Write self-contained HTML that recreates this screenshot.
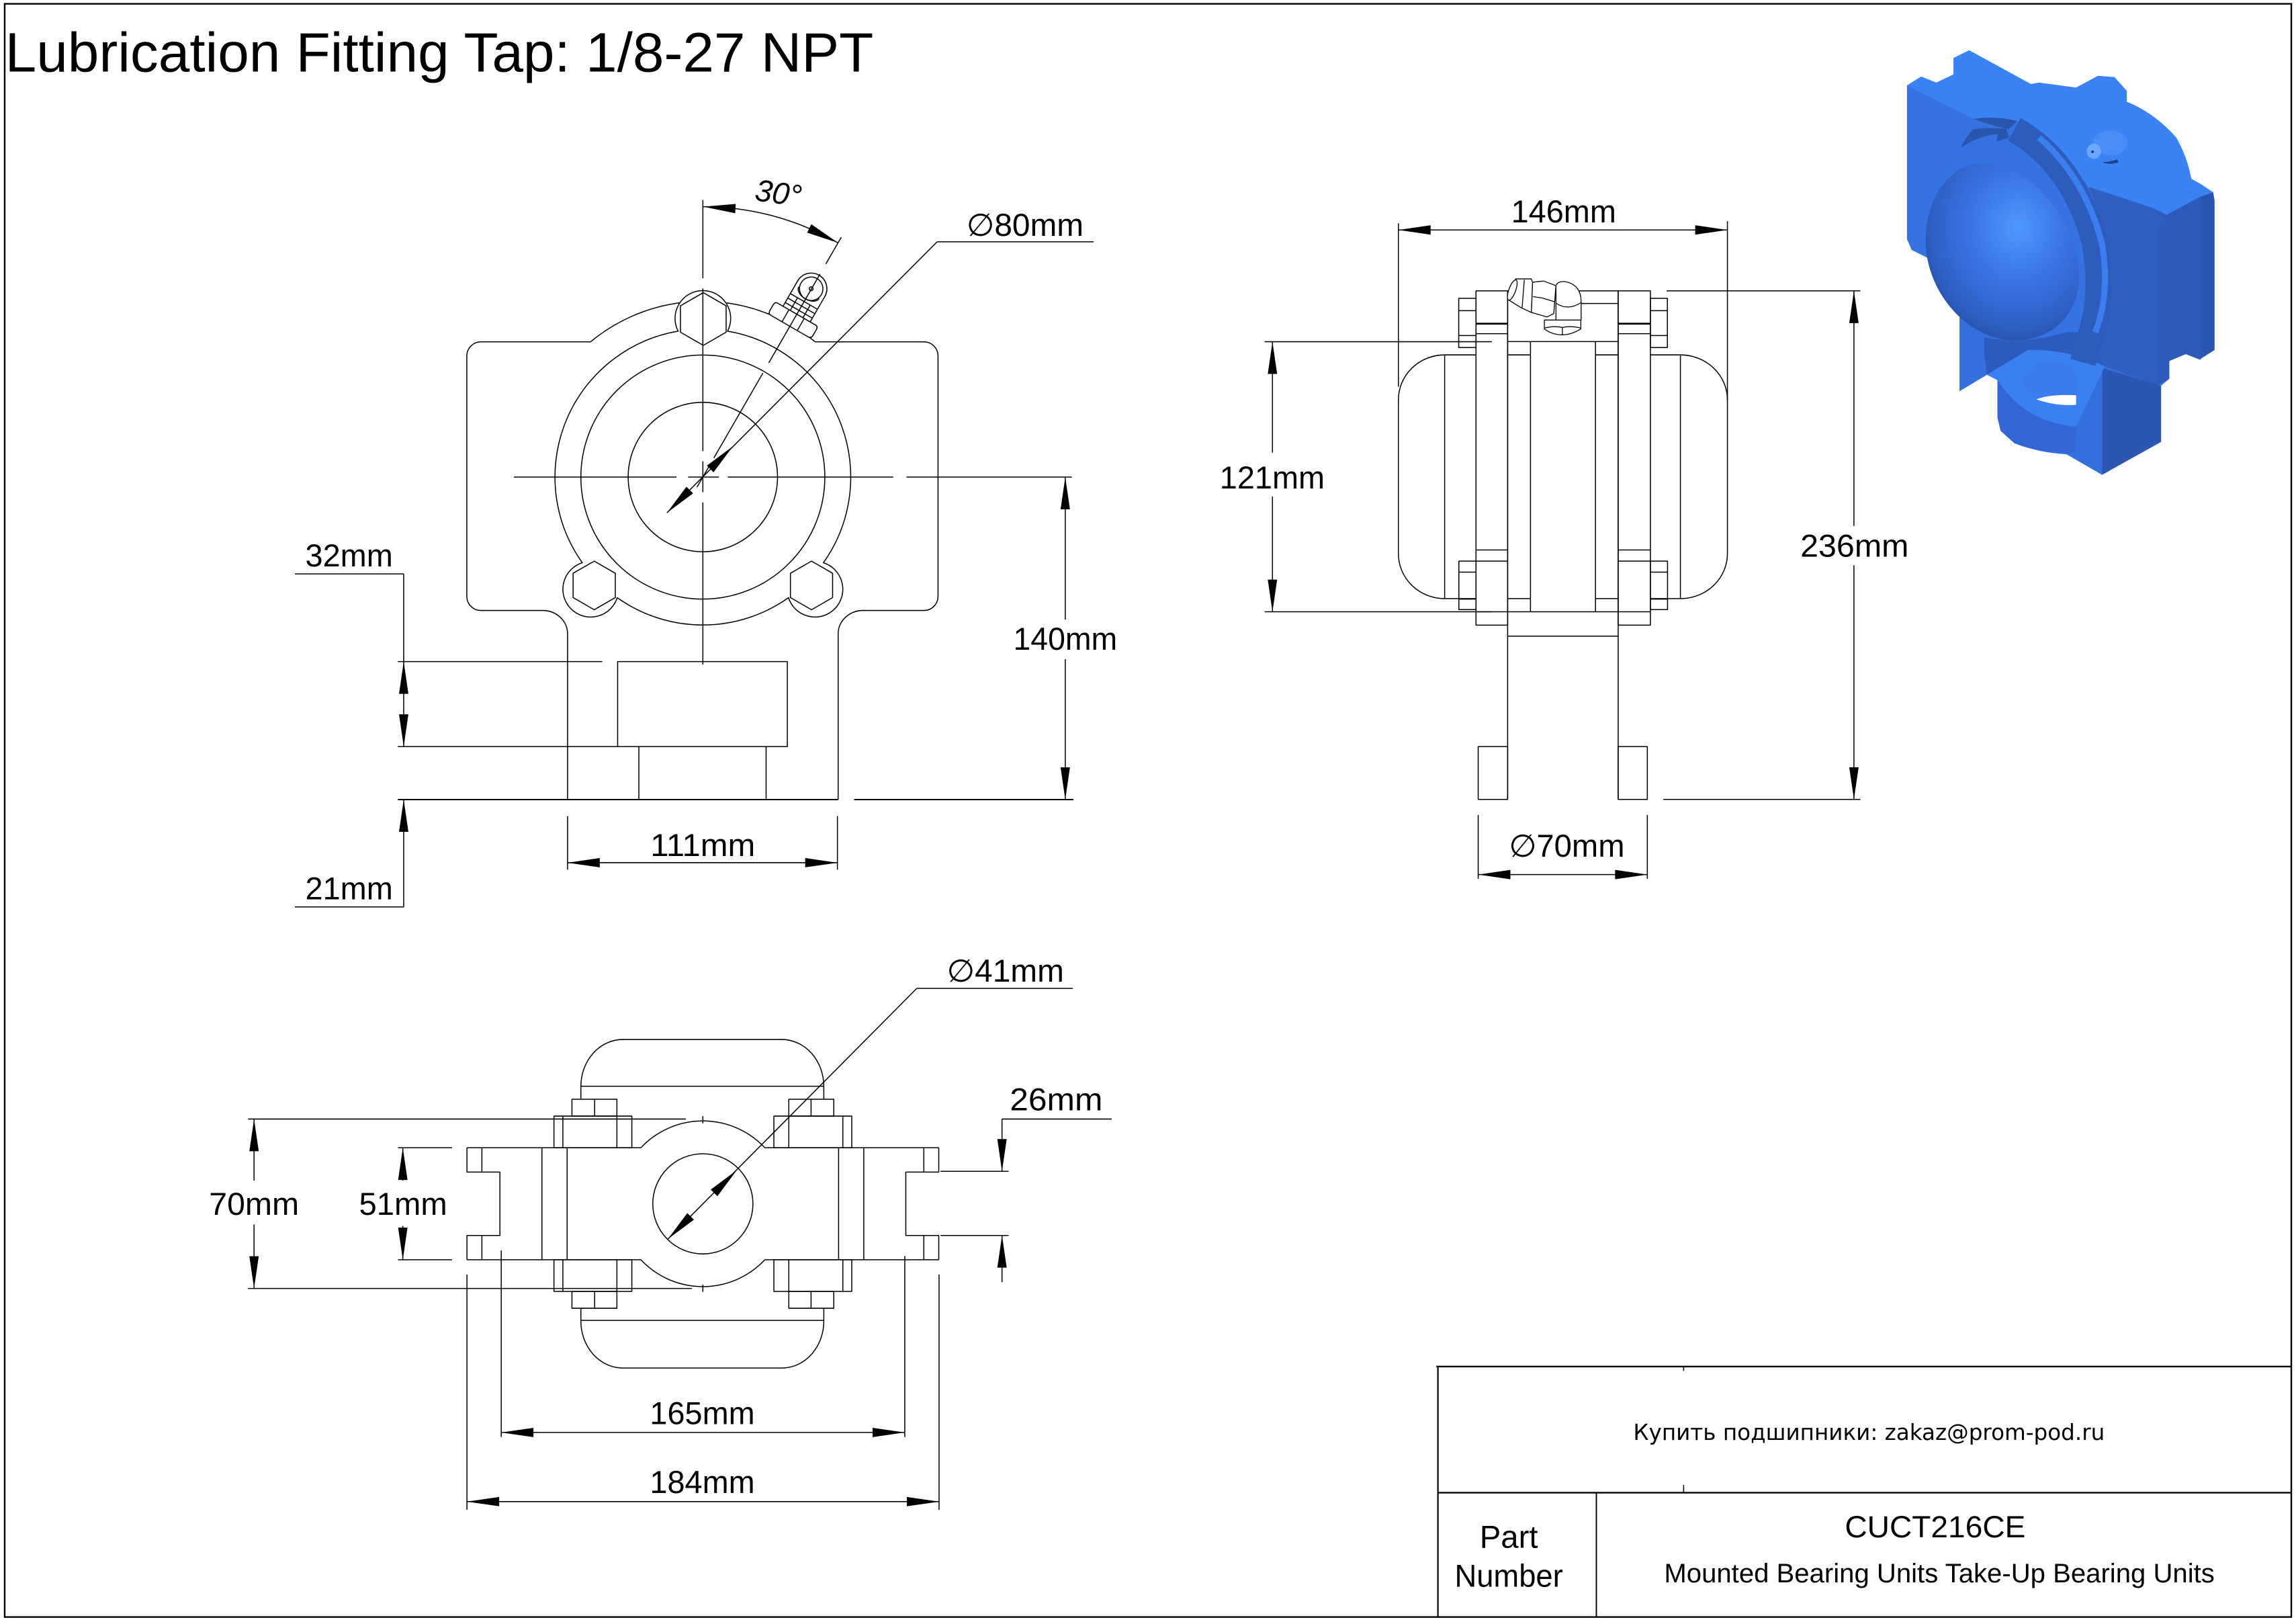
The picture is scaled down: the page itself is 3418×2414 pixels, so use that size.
<!DOCTYPE html>
<html><head><meta charset="utf-8"><style>
html,body{margin:0;padding:0;background:#fff;}
svg{display:block;}
text{font-family:"Liberation Sans","DejaVu Sans",sans-serif;fill:#000;stroke:none;}
</style></head><body>
<svg xmlns="http://www.w3.org/2000/svg" xmlns:xlink="http://www.w3.org/1999/xlink" width="3418" height="2414" viewBox="0 0 1568 1107.4" preserveAspectRatio="none">
<defs>
<path id="ah" d="M0 0 L-22 -3.2 L-22 3.2 Z" fill="#000" stroke="none"/>
<radialGradient id="capg" cx="0.6" cy="0.36" r="0.8">
<stop offset="0" stop-color="#4f98fc"/>
<stop offset="0.35" stop-color="#3a78e8"/>
<stop offset="0.7" stop-color="#2f60c6"/>
<stop offset="0.9" stop-color="#244a9c"/>
<stop offset="1" stop-color="#1a3272"/>
</radialGradient>
</defs>
<rect x="0" y="0" width="1568" height="1107.4" fill="#fff"/>

<!-- border -->
<rect x="3.2" y="2.6" width="1561.6" height="1101.4" fill="none" stroke="#000" stroke-width="1.1"/>
<text x="3.5" y="48.9" font-size="38" textLength="593" lengthAdjust="spacingAndGlyphs">Lubrication Fitting Tap: 1/8-27 NPT</text>

<!-- ================= FRONT VIEW ================= -->
<g fill="none" stroke="#000" stroke-width="0.7" stroke-linejoin="round">
<path d="M318.8 243 A9.6 9.6 0 0 1 328.4 233.4 H403.3 A120 120 0 0 1 464.3 206.7"/>
<path d="M495.7 206.7 A120 120 0 0 1 556.7 233.4 H631 A9.6 9.6 0 0 1 640.6 243 V407.2 A9.6 9.6 0 0 1 631 416.8 H589.5 A17 16 0 0 0 572.4 432.5 V545.9"/>
<path d="M318.8 243 V407.2 A9.6 9.6 0 0 0 328.4 416.8 H370.5 A17 16 0 0 1 387.6 432.5 V545.9"/>
<path d="M496.88 226.12 A101 101 0 0 1 562.35 384.18 A19 19 0 1 1 538.48 408.05 A101 101 0 0 1 421.52 408.05 A19 19 0 1 1 397.65 384.18 A101 101 0 0 1 463.12 226.12 A19 19 0 1 1 496.88 226.12 Z"/>
<circle cx="480" cy="325.7" r="83.3"/>
<circle cx="480" cy="325.7" r="51"/>
<polygon points="480.3,199.8 495.9,208.8 495.9,226.8 480.3,235.8 464.7,226.8 464.7,208.8"/>
<polygon points="405.8,383.1 420.2,391.4 420.2,408 405.8,416.3 391.4,408 391.4,391.4"/>
<polygon points="554.2,383.1 568.6,391.4 568.6,408 554.2,416.3 539.8,408 539.8,391.4"/>
<path d="M271.7 451.7 H411.3"/>
<rect x="421.8" y="451.7" width="115.9" height="58"/>
<path d="M271.7 509.7 H421.8"/>
<path d="M436.3 509.7 V545.9 M523.2 509.7 V545.9"/>
<path d="M271.7 545.9 H572.4 M583.3 545.9 H733" stroke-width="0.9"/>
<path d="M351 325.7 H462 M470 325.7 H491 M497 325.7 H610 M619 325.7 H732"/>
<path d="M480 136.6 V190 M480 197 V308 M480 315 V336 M480 343 V453.7"/>
</g>
<!-- fitting front -->
<g transform="translate(553.5 198) rotate(30)" fill="#fff" stroke="#000" stroke-width="0.7" stroke-linejoin="round">
<path d="M-10.7 -1 A10.7 10.7 0 0 1 10.7 -1 L10.7 19 L-10.7 19 Z"/>
<path d="M-10.7 9 L10.7 9 M-10.7 12.5 L10.7 12.5 M-10.7 16 L10.7 16 M-5 9 V19 M5 9 V19" fill="none"/>
<path d="M-15 19 H15 Q17 19 17 21.5 V26 Q17 28.5 14.5 28.5 H-14.5 Q-17 28.5 -17 26 V21.5 Q-17 19 -15 19 Z"/>
<path d="M-6 19 V28.5 M6 19 V28.5" fill="none"/>
<circle cx="0" cy="-1" r="8"/>
<path d="M-8 2 A8 5 0 0 0 8 2" fill="none"/>
<circle cx="0" cy="-1" r="1.3"/>
</g>
<g fill="none" stroke="#000" stroke-width="0.7">
<path d="M476 332.6 L484 318.8 M487.5 312.7 L521 254.7 M525 247.8 L560 187.1 M564 180.2 L574.5 162"/>
<path d="M480 141.1 A184.6 184.6 0 0 1 572.3 165.8"/>
<path d="M640 165.1 L455.5 350.1 M640 165.1 H746.8"/>
<path d="M727.5 325.7 V423 M727.5 450 V545.9"/>
<path d="M387.6 557.2 V593.7 M571.9 557.2 V593.7 M387.6 589 H571.9"/>
<path d="M275.7 391.8 V509.7 M201.4 391.8 H275.7"/>
<path d="M275.7 545.9 V619.2 M201.4 619.2 H275.7"/>
</g>
<use xlink:href="#ah" transform="translate(480.3 141.1) rotate(183.4)"/>
<use xlink:href="#ah" transform="translate(572.3 165.8) rotate(26.6)"/>
<use xlink:href="#ah" transform="translate(500.6 304.6) rotate(-45)"/>
<use xlink:href="#ah" transform="translate(455.5 350.1) rotate(135)"/>
<use xlink:href="#ah" transform="translate(727.5 325.7) rotate(-90)"/>
<use xlink:href="#ah" transform="translate(727.5 545.9) rotate(90)"/>
<use xlink:href="#ah" transform="translate(275.7 451.7) rotate(-90)"/>
<use xlink:href="#ah" transform="translate(275.7 509.7) rotate(90)"/>
<use xlink:href="#ah" transform="translate(275.7 545.9) rotate(-90)"/>
<use xlink:href="#ah" transform="translate(387.6 589) rotate(180)"/>
<use xlink:href="#ah" transform="translate(571.9 589) rotate(0)"/>
<text x="516" y="139" font-size="21" font-style="italic" transform="rotate(8 532 130)">30°</text>
<text x="660" y="161.1" font-size="21.5" textLength="80" lengthAdjust="spacingAndGlyphs">∅80mm</text>
<text x="208.5" y="386.7" font-size="21.5" textLength="59.8" lengthAdjust="spacingAndGlyphs">32mm</text>
<text x="208.5" y="614" font-size="21.5" textLength="59.8" lengthAdjust="spacingAndGlyphs">21mm</text>
<text x="692" y="443.5" font-size="21.5" textLength="71" lengthAdjust="spacingAndGlyphs">140mm</text>
<text x="444.2" y="584.4" font-size="21.5" textLength="71.6" lengthAdjust="spacingAndGlyphs">111mm</text>

<!-- ================= SIDE VIEW ================= -->
<g fill="none" stroke="#000" stroke-width="0.7" stroke-linejoin="round">
<path d="M1008 242.3 H986.6 A31.6 30.7 0 0 0 955 273 V378 A31.6 30.7 0 0 0 986.6 408.7 H1008"/>
<path d="M986.6 242.3 V408.7"/>
<path d="M1127.1 242.3 H1147.6 A32.1 30.7 0 0 1 1179.7 273 V378 A32.1 30.7 0 0 1 1147.6 408.7 H1127.1"/>
<path d="M1147.6 242.3 V408.7"/>
<rect x="1008" y="198.6" width="21.6" height="228.2"/>
<rect x="1105.1" y="198.6" width="22" height="228.2"/>
<path d="M1008 221 H1029.6 M1105.1 221 H1127.1" stroke-width="1.3"/>
<path d="M1008 227.8 H1029.6 M1105.1 227.8 H1127.1"/>
<path d="M1008 375.5 H1029.6 M1105.1 375.5 H1127.1 M1008 383.1 H1029.6 M1105.1 383.1 H1127.1"/>
<path d="M1008 417.7 H1029.6 M1105.1 417.7 H1127.1"/>
<path d="M1029.6 198.6 V545.8 M1105.1 198.6 V545.8"/>
<path d="M1029.6 198.6 H1105.1"/>
<path d="M1079.5 207.2 H1105.1 M1029.6 233.2 H1105.1 M1029.6 417.7 H1105.1 M1029.6 434.3 H1105.1"/>
<path d="M1045.2 233.2 V417.7 M1089.6 233.2 V417.7"/>
<path d="M1029.6 242.3 H1045.2 M1089.6 242.3 H1105.1 M1029.6 408.7 H1045.2 M1089.6 408.7 H1105.1"/>
<rect x="1009.5" y="509.7" width="20.1" height="36.1"/>
<rect x="1105.1" y="509.7" width="19.9" height="36.1"/>
<rect x="996.2" y="203.7" width="11.8" height="33.6"/>
<path d="M996.2 212.1 H1008 M996.2 229.1 H1008"/>
<rect x="1127.1" y="203.7" width="11.6" height="33.6"/>
<path d="M1127.1 212.1 H1138.7 M1127.1 229.1 H1138.7"/>
<rect x="996.3" y="383.1" width="11.7" height="33.1"/>
<path d="M996.3 390.6 H1008 M996.3 409 H1008"/>
<rect x="1127.1" y="383.1" width="11.7" height="33.1"/>
<path d="M1127.1 390.6 H1138.8 M1127.1 409 H1138.8"/>
</g>
<!-- side fitting -->
<g fill="#fff" stroke="#000" stroke-width="0.6" stroke-linejoin="round">
<path d="M1054.7 218.5 L1079.6 218.5 L1079.6 224.6 Q1073 228.6 1067 228.6 Q1060 228.6 1054.7 224.6 Z"/>
<path d="M1054.7 224 Q1061 222.3 1067 223.6 Q1073 222.3 1079.6 224 M1067 223.6 V228.6" fill="none"/>
<path d="M1062.6 218.5 L1062.6 195 Q1064 191.5 1070 192.5 Q1079.8 195 1079.8 206 L1079.8 218.5 Z"/>
<path d="M1062.6 207 Q1071 212.5 1079.8 206.5" fill="none"/>
<polygon points="1046.6,192.7 1054.2,191.9 1062.6,195 1061.1,214.1 1056.5,216.4 1045.8,213.3"/>
<path d="M1053.5 203.5 L1061.5 206 M1053.5 203.5 L1047 202.5" fill="none"/>
<polygon points="1035.1,190.4 1045.8,190.4 1046.6,192.7 1045.8,213.3 1039,210.2 1030.5,204.9"/>
<path d="M1041 191 L1039.5 210" fill="none"/>
<ellipse cx="1032.8" cy="198" rx="2.3" ry="7.3" transform="rotate(20 1032.8 198)"/>
</g>
<g fill="none" stroke="#000" stroke-width="0.7">
<path d="M955 157 H1179.7 M955 152.5 V264 M1179.7 151 V273"/>
<path d="M869 233.3 V309 M869 339 V417.7 M863.7 233.3 H1018.8 M863.7 417.7 H1018.8"/>
<path d="M1266.1 198.6 V359 M1266.1 386 V545.8 M1138.2 198.6 H1270.5 M1135.9 545.8 H1270.5"/>
<path d="M1009.5 556.4 V600 M1125 556.4 V600 M1009.5 597.1 H1125"/>
</g>
<use xlink:href="#ah" transform="translate(955 157) rotate(180)"/>
<use xlink:href="#ah" transform="translate(1179.7 157) rotate(0)"/>
<use xlink:href="#ah" transform="translate(869 233.3) rotate(-90)"/>
<use xlink:href="#ah" transform="translate(869 417.7) rotate(90)"/>
<use xlink:href="#ah" transform="translate(1266.1 198.6) rotate(-90)"/>
<use xlink:href="#ah" transform="translate(1266.1 545.8) rotate(90)"/>
<use xlink:href="#ah" transform="translate(1009.5 597.1) rotate(180)"/>
<use xlink:href="#ah" transform="translate(1125 597.1) rotate(0)"/>
<text x="1032" y="151.9" font-size="21.5" textLength="71.7" lengthAdjust="spacingAndGlyphs">146mm</text>
<text x="833" y="333.4" font-size="21.5" textLength="71.7" lengthAdjust="spacingAndGlyphs">121mm</text>
<text x="1229.5" y="380" font-size="21.5" textLength="74" lengthAdjust="spacingAndGlyphs">236mm</text>
<text x="1030.5" y="585" font-size="21.5" textLength="79" lengthAdjust="spacingAndGlyphs">∅70mm</text>

<!-- ================= BOTTOM VIEW ================= -->
<g fill="none" stroke="#000" stroke-width="0.7" stroke-linejoin="round">
<path d="M396.7 750.5 V741.6 A28.7 32 0 0 1 425.4 709.7 H533.9 A28.7 32 0 0 1 562.6 741.6 V750.5"/>
<path d="M396.7 741.6 H562.6"/>
<path d="M396.7 893.2 V901.5 A28.7 32 0 0 0 425.4 934 H533.9 A28.7 32 0 0 0 562.6 901.5 V893.2"/>
<path d="M396.7 901.5 H562.6"/>
<rect x="390.6" y="750.5" width="30.7" height="11.5"/>
<path d="M406.1 750.5 V762"/>
<rect x="538.7" y="750.5" width="30.7" height="11.5"/>
<path d="M553.9 750.5 V762"/>
<rect x="390.6" y="881.7" width="30.7" height="11.5"/>
<path d="M406.1 881.7 V893.2"/>
<rect x="538.7" y="881.7" width="30.7" height="11.5"/>
<path d="M553.9 881.7 V893.2"/>
<rect x="378.3" y="762" width="53.2" height="21.6"/>
<rect x="528.5" y="762" width="53.2" height="21.6"/>
<rect x="378.3" y="860.1" width="53.2" height="21.6"/>
<rect x="528.5" y="860.1" width="53.2" height="21.6"/>
<path d="M384.4 762 V783.6 M421.3 762 V783.6 M538.7 762 V783.6 M575.6 762 V783.6"/>
<path d="M384.4 860.1 V881.7 M421.3 860.1 V881.7 M538.7 860.1 V881.7 M575.6 860.1 V881.7"/>
<path d="M437.7 783.6 A58 58 0 0 1 522.3 783.6"/>
<path d="M437.7 860.1 A58 58 0 0 0 522.3 860.1"/>
<path d="M480 762 V767 M480 877 V882"/>
<path d="M318.9 783.6 H437.7 M522.3 783.6 H641.1 M318.9 860.1 H437.7 M522.3 860.1 H641.1"/>
<path d="M318.9 783.6 V800.2 H341.4 V843.5 H318.9 V860.1"/>
<path d="M641.1 783.6 V800.2 H618.6 V843.5 H641.1 V860.1"/>
<path d="M329.1 783.6 V800.2 M329.1 843.5 V860.1 M630.9 783.6 V800.2 M630.9 843.5 V860.1"/>
<path d="M370.1 783.6 V860.1 M387.3 783.6 V860.1 M572.7 783.6 V860.1 M589.9 783.6 V860.1"/>
<circle cx="480" cy="821.9" r="34.2"/>
<path d="M626.1 674.8 H732.6 M626.1 674.8 L456.1 846"/>
<path d="M169.4 764 H468.4 M169.4 879.7 H472.5 M173.5 764 V806 M173.5 836 V879.7"/>
<path d="M271.8 783.6 H308.7 M271.8 860.1 H308.7 M275.1 783.6 V806 M275.1 837 V860.1"/>
<path d="M642.3 799.7 H688.8 M642.3 843.5 H688.8 M684.3 764 V799.7 M684.3 843.5 V875.4 M684.3 764 H759.2"/>
<path d="M342.3 853.7 V981.1 M617.9 857.5 V981.1 M342.3 978 H617.9"/>
<path d="M318.9 870.2 V1030.8 M641.3 870.2 V1030.8 M318.9 1025.2 H641.3"/>
</g>
<use xlink:href="#ah" transform="translate(503.2 798.9) rotate(-45)"/>
<use xlink:href="#ah" transform="translate(456.1 846) rotate(135)"/>
<use xlink:href="#ah" transform="translate(173.5 764) rotate(-90)"/>
<use xlink:href="#ah" transform="translate(173.5 879.7) rotate(90)"/>
<use xlink:href="#ah" transform="translate(275.1 783.6) rotate(-90)"/>
<use xlink:href="#ah" transform="translate(275.1 860.1) rotate(90)"/>
<use xlink:href="#ah" transform="translate(684.3 799.7) rotate(90)"/>
<use xlink:href="#ah" transform="translate(684.3 843.5) rotate(-90)"/>
<use xlink:href="#ah" transform="translate(342.3 978) rotate(180)"/>
<use xlink:href="#ah" transform="translate(617.9 978) rotate(0)"/>
<use xlink:href="#ah" transform="translate(318.9 1025.2) rotate(180)"/>
<use xlink:href="#ah" transform="translate(641.3 1025.2) rotate(0)"/>
<text x="646.6" y="670.2" font-size="21.5" textLength="80" lengthAdjust="spacingAndGlyphs">∅41mm</text>
<text x="142.8" y="829.5" font-size="21.5" textLength="61.4" lengthAdjust="spacingAndGlyphs">70mm</text>
<text x="245.2" y="829.5" font-size="21.5" textLength="60.2" lengthAdjust="spacingAndGlyphs">51mm</text>
<text x="689.6" y="758.1" font-size="21.5" textLength="63.4" lengthAdjust="spacingAndGlyphs">26mm</text>
<text x="443.8" y="972.2" font-size="21.5" textLength="71.7" lengthAdjust="spacingAndGlyphs">165mm</text>
<text x="443.8" y="1019.3" font-size="21.5" textLength="71.7" lengthAdjust="spacingAndGlyphs">184mm</text>

<!-- ================= 3D RENDER ================= -->
<g transform="translate(1261.5 32.1) scale(0.1872)" stroke="none">
<path fill="#3572e2" d="M218 140 L270 108 L325 130 L388 100 L388 40 L445 12 L670 135 L700 130 L835 148 L915 105 L975 110 L1020 160 L1020 200 Q1120 240 1200 330 Q1240 400 1255 480 L1290 500 L1335 530 L1340 560 L1340 1105 L1285 1140 L1235 1120 L1175 1145 L1175 1210 L1145 1235 L1145 1440 L930 1560 L800 1485 Q700 1480 610 1445 L560 1400 L548 1350 L548 1215 L510 1195 L410 1255 L410 975 Q360 920 340 880 L295 770 L235 740 L218 700 Z"/>
<path fill="#3b82f5" d="M218 140 L270 108 L325 130 L388 100 L388 40 L445 12 L670 135 L700 130 L835 148 L915 105 L975 110 L1020 160 L1020 200 Q1120 240 1200 330 Q1240 400 1255 480 L1290 500 L1335 530 L1290 545 L1230 520 L1110 585 L880 510 Q800 400 700 330 L620 270 Q540 250 460 262 Z"/>
<path fill="#305ec3" d="M880 510 L1110 585 L1165 640 L1130 660 L1130 1235 L940 1165 Q900 1100 870 1040 Q960 900 940 700 Q920 590 880 510 Z"/>
<path fill="#2e5abb" d="M1110 585 L1230 520 L1290 545 L1290 1140 L1235 1120 L1175 1145 L1175 1210 L1130 1235 L1130 660 L1165 640 Z"/>
<path fill="#3b80f2" d="M1110 585 L1230 520 L1290 545 L1165 612 Z"/>
<path fill="#2b54b0" d="M1290 545 L1335 530 L1340 560 L1340 1105 L1285 1140 L1290 1140 Z"/>
<path fill="#2c56b2" d="M930 1170 L1145 1235 L1145 1440 L930 1560 Z"/>
<path fill="#3370de" d="M410 975 L930 1170 L930 1560 L800 1485 Q700 1480 610 1445 L560 1400 L548 1350 L548 1215 L510 1195 L410 1255 Z"/>
<path fill="#2d5bbd" d="M500 1060 Q650 1085 800 1040 L870 1040 L940 1165 L660 1105 L510 1195 L500 1120 Z"/>
<path fill="#3b80f3" d="M510 1195 L660 1105 Q800 1100 940 1165 L835 1385 Q650 1370 548 1215 Z"/>
<path fill="#3166d4" d="M548 1215 Q650 1370 835 1385 L830 1480 Q700 1480 610 1445 L560 1400 L548 1350 Z"/>
<path fill="#3a7cf0" d="M645 1215 Q660 1150 740 1150 Q835 1150 835 1215 L835 1305 Q760 1310 700 1290 Q645 1265 645 1215 Z"/>
<path fill="#ffffff" d="M690 1285 Q740 1265 835 1270 L835 1305 Q760 1310 690 1285 Z"/>
<path fill="none" stroke="#2e5cbc" stroke-width="95" d="M610 300 Q820 420 900 700 Q940 900 885 1060 L860 1150"/>
<path fill="none" stroke="#3a7ef0" stroke-width="22" d="M700 330 Q870 480 930 720 Q960 900 905 1040"/>
<path fill="#2b56ae" d="M415 368 Q480 322 550 318 L545 345 L590 330 L580 298 Q510 292 460 300 Q430 330 415 368 Z"/>
<path fill="#2b56ae" d="M460 262 Q540 250 620 270 L590 300 Q520 285 460 262 Z"/>
<path fill="url(#capg)" d="M470 425 C640 410 830 600 845 820 C855 960 760 1065 620 1070 C470 1075 320 940 290 760 C270 620 330 450 470 425 Z"/>
<ellipse cx="960" cy="350" rx="62" ry="46" fill="#4a8cf6"/>
<ellipse cx="900" cy="380" rx="26" ry="28" fill="#6aa8ff"/>
<ellipse cx="895" cy="382" rx="5" ry="5" fill="#1d3c80"/>
<path fill="#1f3f88" d="M930 420 Q960 432 990 420 L985 410 Q955 420 930 420 Z"/>
</g>

<!-- ================= TITLE BLOCK ================= -->
<g fill="none" stroke="#000">
<path d="M980.9 933 H1564.8" stroke-width="1.1"/>
<path d="M982 933 V1104" stroke-width="1"/>
<path d="M982 1019.1 H1564.8" stroke-width="1.1"/>
<path d="M1090.2 1019.1 V1104" stroke-width="0.9"/>
<path d="M1149.8 933 V936 M1149.8 1013.8 V1019.1" stroke-width="0.7"/>
</g>
<text x="1115.4" y="983" font-size="15.2" textLength="322" lengthAdjust="spacingAndGlyphs" style="font-family:'DejaVu Sans','Liberation Sans',sans-serif">Купить подшипники: zakaz@prom-pod.ru</text>
<text x="1010.5" y="1056.6" font-size="21.5" textLength="39.8" lengthAdjust="spacingAndGlyphs">Part</text>
<text x="993.4" y="1083.3" font-size="21.5" textLength="74" lengthAdjust="spacingAndGlyphs">Number</text>
<text x="1259.9" y="1049.7" font-size="21" textLength="123.4" lengthAdjust="spacingAndGlyphs">CUCT216CE</text>
<text x="1136.5" y="1080.3" font-size="18.3" textLength="375.9" lengthAdjust="spacingAndGlyphs">Mounted Bearing Units Take-Up Bearing Units</text>
</svg>
</body></html>
